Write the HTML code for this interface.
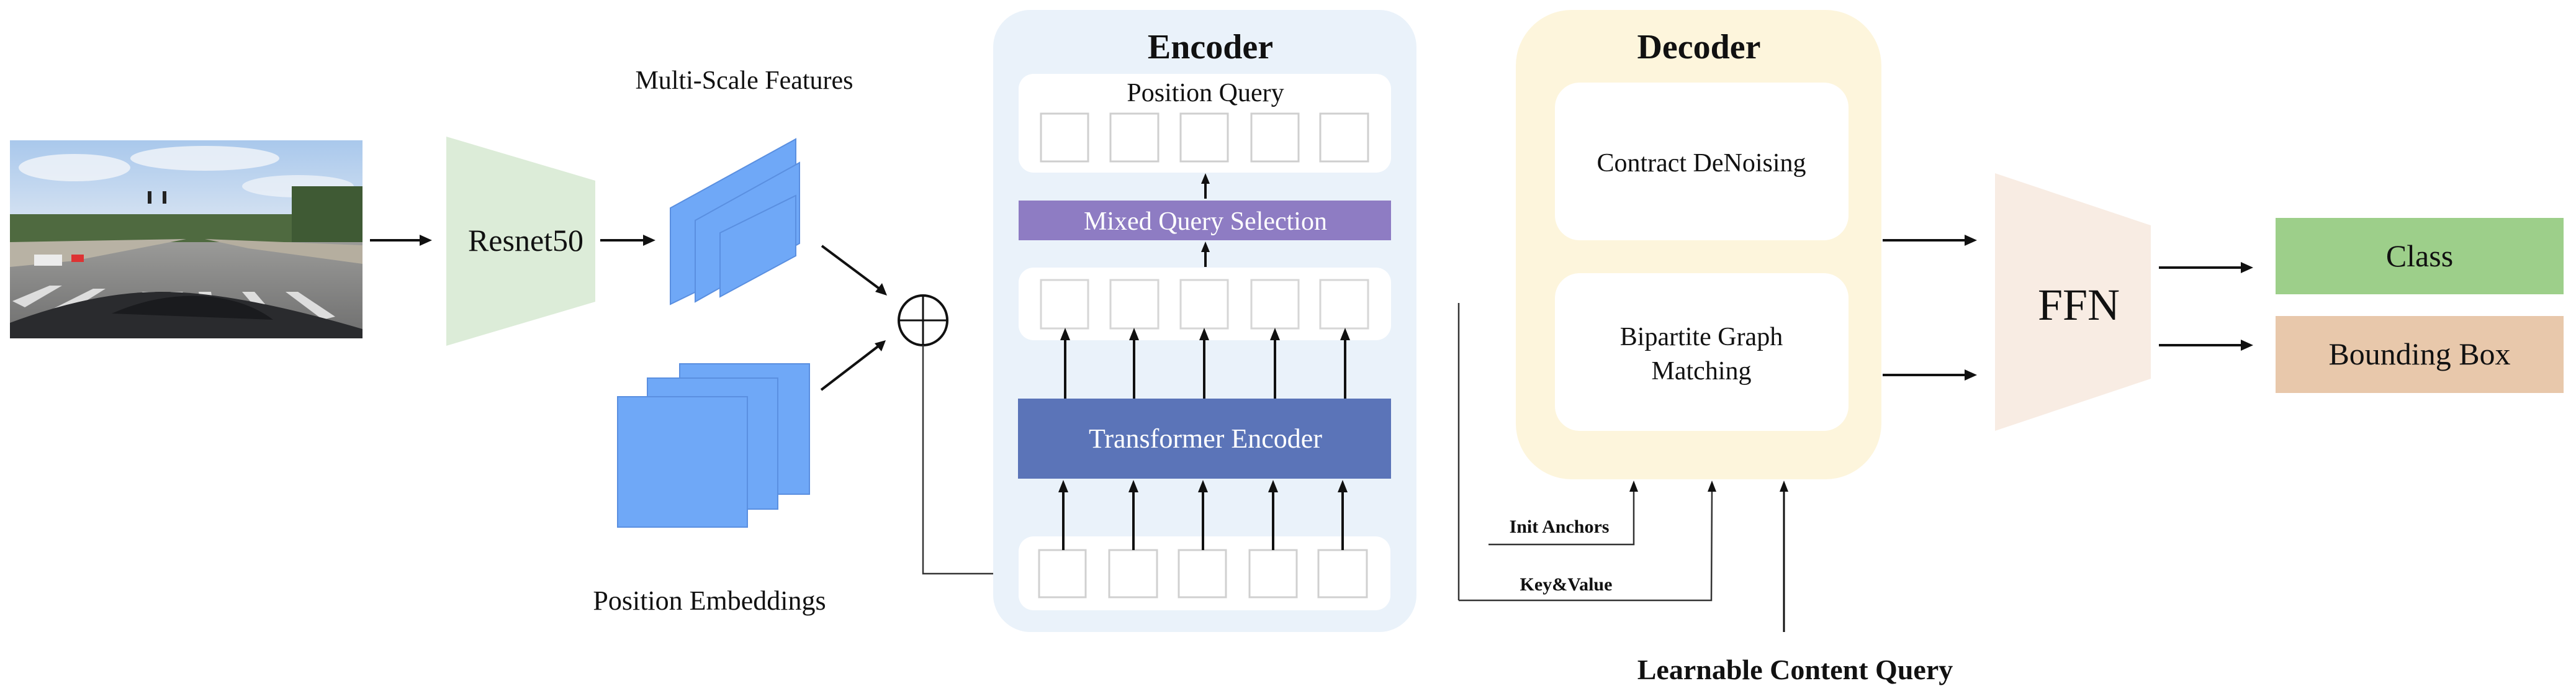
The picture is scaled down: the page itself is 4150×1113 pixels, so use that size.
<!DOCTYPE html>
<html><head><meta charset="utf-8"><style>
html,body{margin:0;padding:0;background:#fff;}
svg{display:block;}
text{font-family:"Liberation Serif",serif;fill:#111;}
</style></head><body>
<svg width="4150" height="1113" viewBox="0 0 4150 1113" xmlns="http://www.w3.org/2000/svg">
<defs>
<marker id="ah" markerWidth="8" markerHeight="8" refX="7" refY="4" orient="auto" markerUnits="userSpaceOnUse" viewBox="0 0 8 8">
</marker>
<linearGradient id="sky" x1="0" y1="0" x2="0" y2="1">
<stop offset="0" stop-color="#a9c8ec"/><stop offset="0.5" stop-color="#dfe8f3"/><stop offset="1" stop-color="#e9eef4"/>
</linearGradient>
<linearGradient id="road" x1="0" y1="0" x2="0" y2="1">
<stop offset="0" stop-color="#9a9a98"/><stop offset="1" stop-color="#6e6e6e"/>
</linearGradient>
</defs>

<!-- photo -->
<g>
<rect x="16" y="226" width="568" height="319" fill="url(#sky)"/>
<ellipse cx="120" cy="270" rx="90" ry="22" fill="#f2f5f9" opacity="0.8"/>
<ellipse cx="330" cy="255" rx="120" ry="20" fill="#f2f5f9" opacity="0.8"/>
<ellipse cx="480" cy="300" rx="90" ry="18" fill="#f2f5f9" opacity="0.7"/>
<rect x="16" y="345" width="568" height="45" fill="#4f6a40"/>
<rect x="470" y="300" width="114" height="90" fill="#3f5a34"/>
<polygon points="16,390 584,390 584,545 16,545" fill="url(#road)"/>
<polygon points="16,390 300,385 120,420 16,430" fill="#b8b2a4"/>
<polygon points="330,385 584,395 584,425 400,400" fill="#b5ae9f"/>
<rect x="55" y="410" width="45" height="18" fill="#ececec"/>
<rect x="115" y="410" width="20" height="12" fill="#d33"/>
<rect x="238" y="308" width="6" height="20" fill="#222"/><rect x="262" y="308" width="6" height="20" fill="#222"/>
<g fill="#eee" opacity="0.85">
<polygon points="20,485 80,460 100,460 40,495"/><polygon points="70,505 150,465 170,465 90,515"/>
<polygon points="150,515 230,470 250,470 170,520"/><polygon points="240,505 275,470 295,470 262,505"/>
<polygon points="320,470 340,470 345,500 325,500"/><polygon points="390,470 410,470 440,505 420,505"/>
<polygon points="460,470 480,470 540,510 520,515"/>
</g>
<path d="M16 520 Q150 470 260 470 Q380 470 584 530 L584 545 L16 545 Z" fill="#2a2b2e"/>
<path d="M180 505 Q260 470 340 478 Q400 485 440 515 Z" fill="#1a1b1e"/>
</g>

<!-- arrows -->
<g stroke="#111" stroke-width="4" fill="none">
<line x1="596" y1="387" x2="680" y2="387"/>
<line x1="967" y1="387" x2="1040" y2="387"/>
<line x1="1324" y1="396" x2="1418" y2="466"/>
<line x1="1323" y1="628" x2="1417" y2="556"/>
<line x1="3033" y1="387" x2="3170" y2="387"/>
<line x1="3033" y1="604" x2="3170" y2="604"/>
<line x1="3478" y1="431" x2="3615" y2="431"/>
<line x1="3478" y1="556" x2="3615" y2="556"/>
</g>
<g fill="#111">
<polygon points="696,387 676,378 676,396"/>
<polygon points="1056,387 1036,378 1036,396"/>
<polygon points="1429,476 1410,470 1421,456"/>
<polygon points="1427,548 1420,566 1409,553"/>
<polygon points="3185,387 3165,378 3165,396"/>
<polygon points="3185,604 3165,595 3165,613"/>
<polygon points="3630,431 3610,422 3610,440"/>
<polygon points="3630,556 3610,547 3610,565"/>
</g>

<!-- resnet -->
<polygon points="719,220 959,291 959,486 719,557" fill="#dcecd8"/>
<text x="847" y="404" font-size="50" text-anchor="middle">Resnet50</text>

<!-- multi-scale features -->
<text x="1199" y="143" font-size="42" text-anchor="middle">Multi-Scale Features</text>
<polygon points="1080,335 1282,224 1282,392 1080,490" fill="#6fa8f7" stroke="#5a8fe0" stroke-width="2"/>
<polygon points="1120,355 1288,262 1288,392 1120,486" fill="#6fa8f7" stroke="#5a8fe0" stroke-width="2"/>
<polygon points="1160,375 1282,315 1282,412 1160,478" fill="#6fa8f7" stroke="#5a8fe0" stroke-width="2"/>

<!-- position embeddings -->
<rect x="1095" y="586" width="209" height="210" fill="#6fa8f7" stroke="#5a8fe0" stroke-width="2"/>
<rect x="1043" y="609" width="210" height="211" fill="#6fa8f7" stroke="#5a8fe0" stroke-width="2"/>
<rect x="995" y="639" width="209" height="210" fill="#6fa8f7" stroke="#5a8fe0" stroke-width="2"/>
<text x="1143" y="982" font-size="44" text-anchor="middle">Position Embeddings</text>

<!-- plus circle -->
<ellipse cx="1487" cy="516" rx="39" ry="40" fill="#fff" stroke="#111" stroke-width="4"/>
<line x1="1448" y1="516" x2="1526" y2="516" stroke="#111" stroke-width="3"/>
<line x1="1487" y1="476" x2="1487" y2="556" stroke="#111" stroke-width="3"/>
<polyline points="1487,556 1487,924 1630,924" fill="none" stroke="#333" stroke-width="2.5"/>
<polygon points="1642,924 1628,918 1628,930" fill="#111"/>

<!-- encoder -->
<rect x="1600" y="16" width="682" height="1002" rx="60" fill="#eaf2fa"/>
<text x="1950" y="94" font-size="56" font-weight="bold" text-anchor="middle">Encoder</text>
<rect x="1641" y="119" width="600" height="159" rx="24" fill="#fff"/>
<text x="1942" y="163" font-size="42" text-anchor="middle">Position Query</text>
<g fill="#fff" stroke="#cfcfcf" stroke-width="3">
<rect x="1677" y="183" width="76" height="77"/><rect x="1789" y="183" width="77" height="77"/>
<rect x="1902" y="183" width="76" height="77"/><rect x="2016" y="183" width="76" height="77"/>
<rect x="2127" y="183" width="77" height="77"/>
</g>
<rect x="1641" y="323" width="600" height="64" fill="#8e7cc3"/>
<text x="1942" y="370" font-size="42" text-anchor="middle" fill="#fff" style="fill:#fff">Mixed Query Selection</text>
<rect x="1641" y="431" width="600" height="117" rx="24" fill="#fff"/>
<g fill="#fff" stroke="#d6d6d6" stroke-width="3">
<rect x="1677" y="451" width="76" height="78"/><rect x="1789" y="451" width="77" height="78"/>
<rect x="1902" y="451" width="76" height="78"/><rect x="2016" y="451" width="76" height="78"/>
<rect x="2127" y="451" width="77" height="78"/>
</g>
<rect x="1640" y="642" width="601" height="129" fill="#5b74b8"/>
<text x="1942" y="721" font-size="44" text-anchor="middle" style="fill:#fff">Transformer Encoder</text>
<rect x="1641" y="864" width="599" height="119" rx="24" fill="#fff"/>
<g fill="#fff" stroke="#d0d0d0" stroke-width="3">
<rect x="1674" y="886" width="75" height="76"/><rect x="1787" y="886" width="77" height="76"/>
<rect x="1899" y="886" width="76" height="76"/><rect x="2013" y="886" width="76" height="76"/>
<rect x="2124" y="886" width="78" height="76"/>
</g>
<g stroke="#111" stroke-width="4">
<line x1="1942" y1="320" x2="1942" y2="292"/>
<line x1="1942" y1="430" x2="1942" y2="402"/>
<line x1="1716" y1="642" x2="1716" y2="545"/><line x1="1827" y1="642" x2="1827" y2="545"/>
<line x1="1940" y1="642" x2="1940" y2="545"/><line x1="2054" y1="642" x2="2054" y2="545"/>
<line x1="2167" y1="642" x2="2167" y2="545"/>
<line x1="1713" y1="886" x2="1713" y2="790"/><line x1="1826" y1="886" x2="1826" y2="790"/>
<line x1="1938" y1="886" x2="1938" y2="790"/><line x1="2051" y1="886" x2="2051" y2="790"/>
<line x1="2163" y1="886" x2="2163" y2="790"/>
</g>
<g fill="#111">
<polygon points="1942,279 1935,296 1949,296"/>
<polygon points="1942,389 1935,406 1949,406"/>
<polygon points="1716,528 1708,548 1724,548"/><polygon points="1827,528 1819,548 1835,548"/>
<polygon points="1940,528 1932,548 1948,548"/><polygon points="2054,528 2046,548 2062,548"/>
<polygon points="2167,528 2159,548 2175,548"/>
<polygon points="1713,773 1705,793 1721,793"/><polygon points="1826,773 1818,793 1834,793"/>
<polygon points="1938,773 1930,793 1946,793"/><polygon points="2051,773 2043,793 2059,793"/>
<polygon points="2163,773 2155,793 2171,793"/>
</g>

<!-- decoder -->
<rect x="2442" y="16" width="589" height="756" rx="90" fill="#fdf5dc"/>
<text x="2737" y="94" font-size="56" font-weight="bold" text-anchor="middle">Decoder</text>
<rect x="2505" y="133" width="473" height="254" rx="40" fill="#fff"/>
<text x="2741" y="276" font-size="42" text-anchor="middle">Contract DeNoising</text>
<rect x="2505" y="440" width="473" height="254" rx="40" fill="#fff"/>
<text x="2741" y="556" font-size="42" text-anchor="middle">Bipartite Graph</text>
<text x="2741" y="611" font-size="42" text-anchor="middle">Matching</text>

<!-- decoder inputs -->
<g stroke="#333" stroke-width="2.5" fill="none">
<line x1="2350" y1="488" x2="2350" y2="967"/>
<polyline points="2350,967 2757,967 2758,788"/>
<polyline points="2398,877 2632,877 2632,788"/>
</g>
<line x1="2874" y1="1018" x2="2874" y2="788" stroke="#111" stroke-width="3"/>
<g fill="#111">
<polygon points="2632,774 2625,792 2639,792"/>
<polygon points="2758,774 2751,792 2765,792"/>
<polygon points="2874,774 2867,792 2881,792"/>
</g>
<text x="2512" y="858" font-size="30" font-weight="bold" text-anchor="middle">Init Anchors</text>
<text x="2523" y="951" font-size="30" font-weight="bold" text-anchor="middle">Key&amp;Value</text>
<text x="2892" y="1094" font-size="46" font-weight="bold" text-anchor="middle">Learnable Content Query</text>

<!-- FFN -->
<polygon points="3214,279 3465,363 3465,610 3214,694" fill="#f8ece3"/>
<text x="3349" y="515" font-size="72" text-anchor="middle">FFN</text>

<!-- outputs -->
<rect x="3666" y="351" width="464" height="123" fill="#9dcf8a"/>
<text x="3898" y="429" font-size="50" text-anchor="middle">Class</text>
<rect x="3666" y="509" width="464" height="124" fill="#e8c8ab"/>
<text x="3898" y="587" font-size="50" text-anchor="middle">Bounding Box</text>
</svg>
</body></html>
